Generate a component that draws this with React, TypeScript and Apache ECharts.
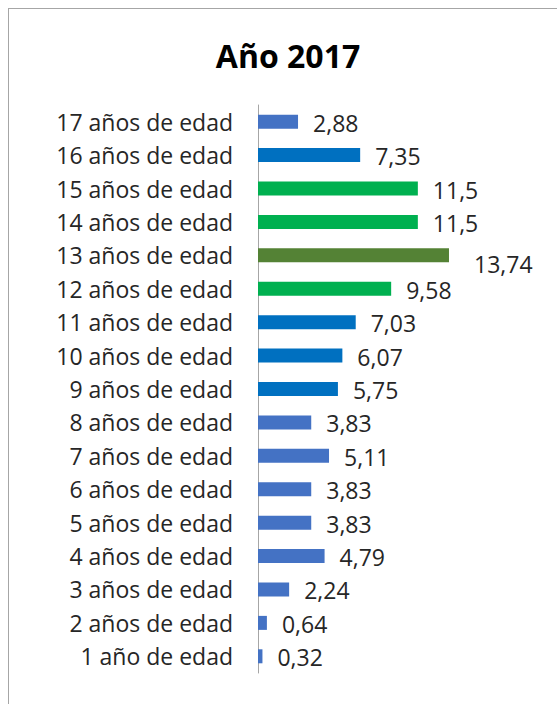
import React, { useEffect, useRef } from "react";
import * as echarts from "echarts";

const categories = [
  "1 año de edad",
  "2 años de edad",
  "3 años de edad",
  "4 años de edad",
  "5 años de edad",
  "6 años de edad",
  "7 años de edad",
  "8 años de edad",
  "9 años de edad",
  "10 años de edad",
  "11 años de edad",
  "12 años de edad",
  "13 años de edad",
  "14 años de edad",
  "15 años de edad",
  "16 años de edad",
  "17 años de edad",
];
const values = [0.32, 0.64, 2.24, 4.79, 3.83, 3.83, 5.11, 3.83, 5.75, 6.07, 7.03, 9.58, 13.74, 11.5, 11.5, 7.35, 2.88];
const barColors = [
  "#4472C4", "#4472C4", "#4472C4", "#4472C4", "#4472C4", "#4472C4", "#4472C4", "#4472C4",
  "#0070C0", "#0070C0", "#0070C0",
  "#00B050", "#548235", "#00B050", "#00B050",
  "#0070C0", "#4472C4",
];
const title = "Año 2017";

const FONT = "'Open Sans', sans-serif";

export default function App() {
  const ref = useRef<HTMLDivElement>(null);
  useEffect(() => {
    if (!ref.current) return;
    const chart = echarts.init(ref.current, undefined, { renderer: "svg" });
    chart.setOption({
      animation: false,
      title: {
        text: title,
        left: 274,
        textAlign: "center",
        top: 25,
        textStyle: { fontFamily: FONT, fontSize: 32, fontWeight: "bold", color: "#000" },
      },
      grid: { left: 249, right: 22, top: 96, bottom: 32, containLabel: false },
      xAxis: {
        type: "value",
        min: 0,
        max: 20,
        show: false,
      },
      yAxis: {
        type: "category",
        data: categories,
        axisLine: { show: true, lineStyle: { color: "#a6a6a6", width: 1 } },
        axisTick: { show: false },
        axisLabel: { fontFamily: FONT, fontSize: 23, color: "#262626", margin: 25 },
        splitLine: { show: false },
      },
      series: [
        {
          type: "bar",
          barWidth: 14,
          data: values.map((v, i) => ({
            value: v,
            itemStyle: { color: barColors[i] },
            label: i === 12 ? { offset: [10, 9] } : undefined,
          })),
          label: {
            show: true,
            position: "right",
            distance: 15,
            offset: [0, 1],
            fontFamily: FONT,
            fontSize: 23,
            color: "#262626",
            formatter: (p: any) => String(p.value).replace(".", ","),
          },
        },
      ],
    });
    return () => chart.dispose();
  }, []);
  return (
    <div
      ref={ref}
      style={{
        position: "fixed",
        left: 8,
        top: 8,
        width: 549,
        height: 696,
        borderLeft: "1px solid #a6a6a6",
        borderTop: "1px solid #a6a6a6",
        background: "#fff",
      }}
    />
  );
}
